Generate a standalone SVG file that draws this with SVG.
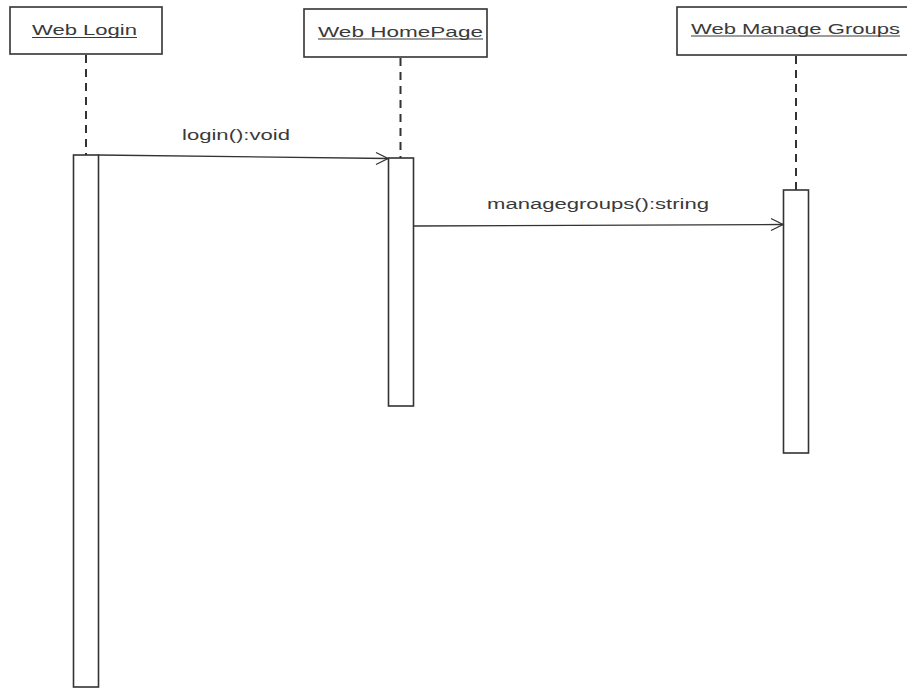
<svg xmlns="http://www.w3.org/2000/svg" width="907" height="688" viewBox="0 0 907 688">
  <style>
    .obj { fill: #ffffff; stroke: #333333; stroke-width: 1.6; }
    .name { font-family: "Liberation Sans", Arial, sans-serif; font-size: 15px; fill: #3a3a3a; }
    .uline { stroke: #3a3a3a; stroke-width: 1.1; }
    .life { stroke: #333333; stroke-width: 2; stroke-dasharray: 8 6; fill: none; }
    .act { fill: #ffffff; stroke: #333333; stroke-width: 1.6; }
    .msg { stroke: #333333; stroke-width: 1.3; fill: none; }
    .label { font-family: "Liberation Sans", Arial, sans-serif; font-size: 14px; fill: #3a3a3a; }
  </style>
  <rect width="907" height="688" fill="#ffffff"/>

  <!-- lifelines -->
  <g id="web-login">
    <rect class="obj" x="10" y="7" width="152" height="47"/>
    <text class="name" x="32" y="35" textLength="105" lengthAdjust="spacingAndGlyphs">Web Login</text>
    <line class="uline" x1="32" y1="37.5" x2="137" y2="37.5"/>
    <line class="life" x1="86" y1="55" x2="86" y2="155"/>
    <rect class="act" x="73.5" y="155" width="25" height="532"/>
  </g>

  <g id="web-homepage">
    <rect class="obj" x="304" y="9" width="183" height="48"/>
    <text class="name" x="318" y="36.5" textLength="165" lengthAdjust="spacingAndGlyphs">Web HomePage</text>
    <line class="uline" x1="318" y1="39" x2="483" y2="39"/>
    <line class="life" x1="400.5" y1="58" x2="400.5" y2="158"/>
    <rect class="act" x="388.5" y="158" width="25" height="248"/>
  </g>

  <g id="web-manage-groups">
    <rect class="obj" x="677" y="7" width="240" height="48"/>
    <text class="name" x="691" y="33.5" textLength="209" lengthAdjust="spacingAndGlyphs">Web Manage Groups</text>
    <line class="uline" x1="691" y1="36" x2="900" y2="36"/>
    <line class="life" x1="796" y1="56" x2="796" y2="190"/>
    <rect class="act" x="783.5" y="190" width="25" height="263"/>
  </g>

  <!-- messages -->
  <g id="connectors">
    <line class="msg" x1="98.5" y1="155" x2="388" y2="158.5"/>
    <polyline class="msg" points="376,152.5 388,158.5 376,164.5"/>
    <text class="label" x="182" y="140" textLength="108" lengthAdjust="spacingAndGlyphs">login():void</text>

    <line class="msg" x1="413.5" y1="226" x2="783" y2="224.5"/>
    <polyline class="msg" points="771,218.5 783,224.5 771,230.5"/>
    <text class="label" x="487" y="209" textLength="222" lengthAdjust="spacingAndGlyphs">managegroups():string</text>
  </g>
</svg>
